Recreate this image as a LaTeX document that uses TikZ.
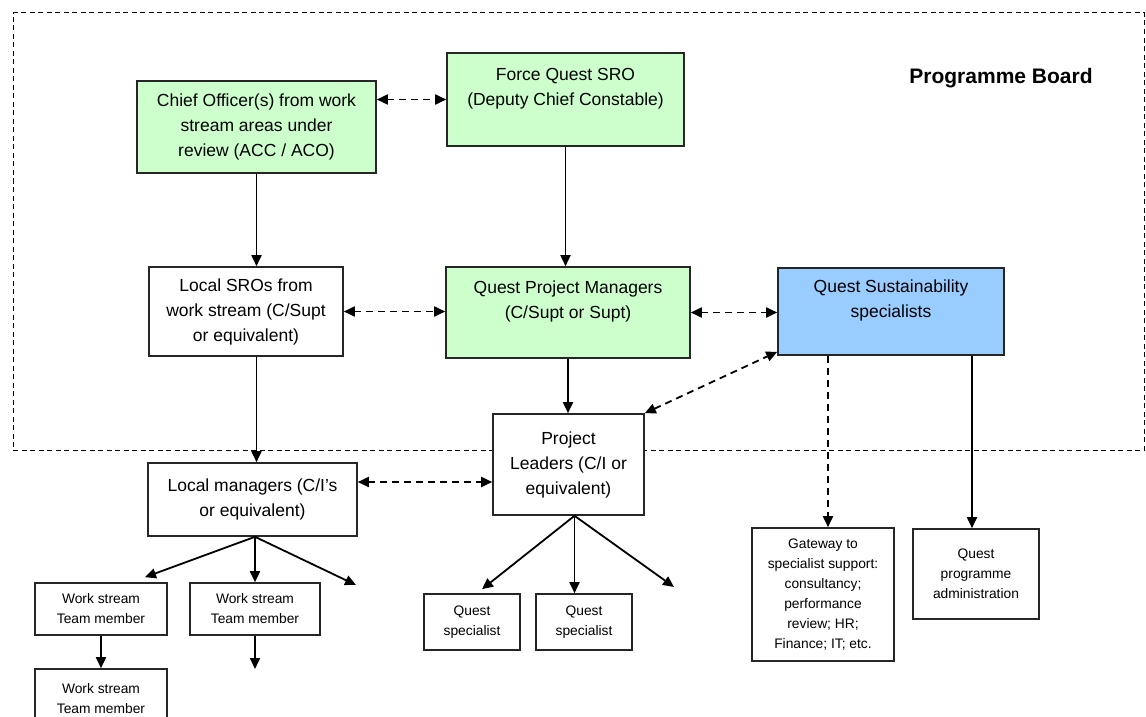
\documentclass[tikz,border=0pt]{standalone}
\usepackage{fontspec}
\setmainfont{Liberation Sans}
\usetikzlibrary{arrows.meta}
\definecolor{boxgreen}{HTML}{CCFFCC}
\definecolor{boxblue}{HTML}{99CCFF}
\newcommand{\mainfs}{\fontsize{17.5}{25}\selectfont}
\newcommand{\smallfs}{\fontsize{13.8}{20}\selectfont}
\begin{document}
\begin{tikzpicture}[x=1pt,y=-1pt,
  box/.style={draw=black!85, line width=1.6pt, fill=white, inner sep=0pt, align=center, font=\mainfs},
  sbox/.style={box, font=\smallfs},
  tip/.tip={Triangle[length=11pt,width=10pt]},
  conn/.style={line width=1.8pt, -tip},
  dconn/.style={line width=1.8pt, dash pattern=on 7pt off 5pt, tip-tip},
  dsingle/.style={line width=1.8pt, dash pattern=on 7pt off 5pt, -tip},
  boardstyle/.style={draw=black, line width=1pt, dash pattern=on 5pt off 3.5pt, inner sep=0pt, minimum width=1131pt, minimum height=437pt}
]
\useasboundingbox (0,0) rectangle (1146,717);

% Programme board frame
\node[boardstyle] (board) at (578.5,231.5) {};
\node[font=\bfseries\fontsize{21}{25}\selectfont] (pbt) at (1001,78) {Programme Board};

% Boxes
\node[box, fill=boxgreen, minimum width=239pt, minimum height=92pt] (CO) at (256.5,127)
  {Chief Officer(s) from work\\stream areas under\\review (ACC / ACO)};
\node[box, fill=boxgreen, minimum width=237pt, minimum height=93pt] (FQ) at (565.5,99.5)
  {Force Quest SRO\\(Deputy Chief Constable)\\~};
\node[box, minimum width=194pt, minimum height=89pt] (LSRO) at (246,311.5)
  {Local SROs from\\work stream (C/Supt\\or equivalent)};
\node[box, fill=boxgreen, minimum width=244pt, minimum height=91pt] (QPM) at (568,312.5)
  {Quest Project Managers\\(C/Supt or Supt)\\~};
\node[box, fill=boxblue, minimum width=226pt, minimum height=87pt] (QSS) at (891,311.5)
  {Quest Sustainability\\specialists\\~};
\node[box, minimum width=151pt, minimum height=101pt] (PL) at (568.5,464.5)
  {Project\\Leaders (C/I or\\equivalent)};
\node[box, minimum width=209pt, minimum height=73pt] (LM) at (252.5,499.5)
  {Local managers (C/I's\\or equivalent)};
\node[sbox, minimum width=132pt, minimum height=52pt] (WS1) at (101,609)
  {Work stream\\Team member};
\node[sbox, minimum width=130pt, minimum height=52pt] (WS2) at (255,609)
  {Work stream\\Team member};
\node[sbox, minimum width=132pt, minimum height=60pt] (WS3) at (101,699)
  {Work stream\\Team member};
\node[sbox, minimum width=96pt, minimum height=56pt] (QS1) at (472,622)
  {Quest\\specialist};
\node[sbox, minimum width=96pt, minimum height=56pt] (QS2) at (584,622)
  {Quest\\specialist};
\node[sbox, minimum width=142pt, minimum height=133pt] (GW) at (823,594.5)
  {Gateway to\\specialist support:\\consultancy;\\performance\\review; HR;\\Finance; IT; etc.};
\node[sbox, minimum width=126pt, minimum height=90pt] (ADM) at (976,574)
  {Quest\\programme\\administration};

% Connectors
\draw[dconn] (CO.east |- FQ.west) -- (FQ.west);
\draw[conn] (CO.south) -- (CO.south |- LSRO.north);
\draw[conn] (FQ.south) -- (FQ.south |- QPM.north);
\draw[dconn] (LSRO.east) -- (LSRO.east -| QPM.west);
\draw[dconn] (QPM.east) -- (QPM.east -| QSS.west);
\draw[dconn] (PL.north east) -- ([yshift=4pt]QSS.south west);
\draw[conn] (CO.south |- LSRO.south) -- (CO.south |- LM.north);
\draw[conn] (QPM.south) -- (QPM.south |- PL.north);
\coordinate (lmA) at ([yshift=17.5pt]LM.east);
\draw[dconn] (lmA) -- (lmA -| PL.west);

\coordinate (lmS) at ([xshift=2.5pt]LM.south);
\draw[conn] (lmS) -- ([xshift=44pt,yshift=5pt]WS1.north);
\draw[conn] (lmS) -- (lmS |- WS2.north);
\coordinate (f1) at (356,585);
\draw[conn] (lmS) -- (f1);
\draw[conn] (WS1.south) -- (WS3.north);
\coordinate (f2) at (255,669);
\draw[conn] (WS2.south) -- (f2);

\coordinate (plS) at ([xshift=6pt]PL.south);
\draw[conn] (plS) -- ([xshift=10pt,yshift=4pt]QS1.north);
\draw[conn] (plS) -- (plS |- QS2.north);
\coordinate (f3) at (674,587);
\draw[conn] (plS) -- (f3);

\coordinate (gwT) at ([xshift=5pt]GW.north);
\draw[dsingle] (gwT |- QSS.south) -- (gwT);
\coordinate (adT) at ([xshift=-4pt]ADM.north);
\draw[conn] (adT |- QSS.south) -- (adT);
\end{tikzpicture}
\end{document}
